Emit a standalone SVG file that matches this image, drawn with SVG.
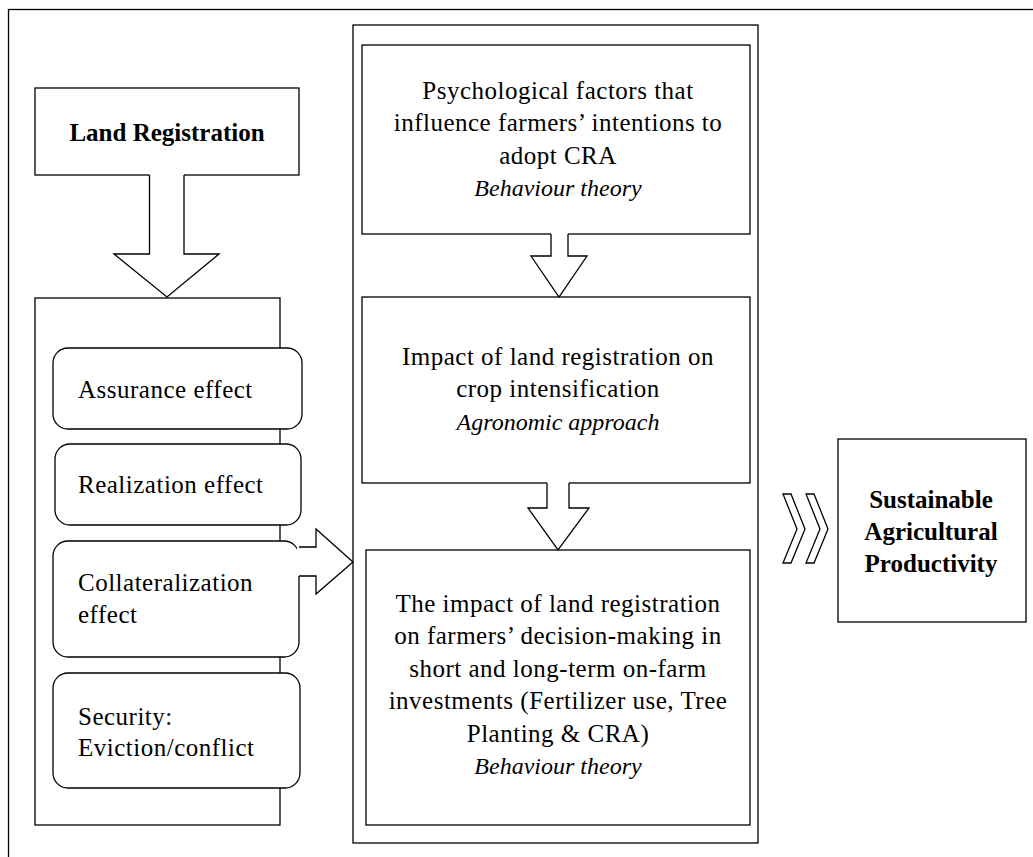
<svg xmlns="http://www.w3.org/2000/svg" width="1033" height="857" viewBox="0 0 1033 857">
<style>
.box{fill:#fff;stroke:#000;stroke-width:1.3}
.frame{fill:none;stroke:#000;stroke-width:1.3}
.arrowfill{fill:#fff;stroke:none}
.arrowline{fill:none;stroke:#000;stroke-width:1.3;stroke-linejoin:miter}
.t{font-family:"Liberation Serif","Times New Roman",serif;font-size:25px;fill:#000;letter-spacing:0.5px}
.c{text-anchor:middle}
.b{font-weight:bold;letter-spacing:0px}
.i{font-style:italic;font-size:24px;letter-spacing:0px}
</style>
<rect width="1033" height="857" fill="#fff"/>
<rect id="outer-frame" class="frame" x="8.5" y="9.5" width="1040" height="860"/>

<g id="middle-container"><rect class="box" x="353" y="25" width="405" height="818"/></g>

<g id="land-registration">
<rect class="box" x="35" y="88" width="264" height="87"/>
<text class="t b c" x="167" y="141">Land Registration</text>
</g>

<g id="effects-container"><rect class="box" x="35" y="298" width="245" height="527"/></g>

<g id="assurance"><rect class="box" x="53" y="348" width="249" height="81" rx="15"/>
<text class="t" x="78" y="398">Assurance effect</text></g>
<g id="realization"><rect class="box" x="55" y="444" width="246" height="81" rx="15"/>
<text class="t" x="78" y="493">Realization effect</text></g>
<g id="collateralization"><rect class="box" x="53" y="541" width="246" height="116" rx="15"/>
<text class="t" x="78" y="591">Collateralization</text>
<text class="t" x="78" y="623">effect</text></g>
<g id="security"><rect class="box" x="53" y="673" width="247" height="115" rx="15"/>
<text class="t" x="78" y="725">Security:</text>
<text class="t" x="78" y="756">Eviction/conflict</text></g>

<g id="psychological">
<rect class="box" x="362" y="45" width="388" height="189"/>
<text class="t c" x="558" y="99">Psychological factors that</text>
<text class="t c" x="558" y="131">influence farmers’ intentions to</text>
<text class="t c" x="558" y="163.5">adopt CRA</text>
<text class="t i c" x="558" y="196">Behaviour theory</text>
</g>

<g id="crop-intensification">
<rect class="box" x="362" y="297" width="388" height="186"/>
<text class="t c" x="558" y="365">Impact of land registration on</text>
<text class="t c" x="558" y="397">crop intensification</text>
<text class="t i c" x="558" y="430">Agronomic approach</text>
</g>

<g id="investments">
<rect class="box" x="366" y="550" width="384" height="275"/>
<text class="t c" x="558" y="611.5">The impact of land registration</text>
<text class="t c" x="558" y="644">on farmers’ decision-making in</text>
<text class="t c" x="558" y="676.5">short and long-term on-farm</text>
<text class="t c" x="558" y="709">investments (Fertilizer use, Tree</text>
<text class="t c" x="558" y="741.5">Planting &amp; CRA)</text>
<text class="t i c" x="558" y="774">Behaviour theory</text>
</g>

<g id="sustainable-productivity">
<rect class="box" x="838" y="439" width="188" height="183"/>
<text class="t b c" x="931" y="507.5">Sustainable</text>
<text class="t b c" x="931" y="540">Agricultural</text>
<text class="t b c" x="931" y="571.5">Productivity</text>
</g>

<g id="connectors">
<polygon class="arrowfill" points="149.5,173 149.5,254 114,254 167,297 219,254 184,254 184,173"/>
<path class="arrowline" d="M149.5,175 V254 H114 L167,297 L219,254 H184 V175"/>
<polygon class="arrowfill" points="551,232 551,256 531,256 559,297 587,256 568,256 568,232"/>
<path class="arrowline" d="M551,234 V256 H531 L559,297 L587,256 H568 V234"/>
<polygon class="arrowfill" points="547,481 547,508 528,508 558,550 589,508 569,508 569,481"/>
<path class="arrowline" d="M547,483 V508 H528 L558,550 L589,508 H569 V483"/>
<polygon class="arrowfill" points="297,547 316,547 316,529 353,562 316,594 316,576 297,576"/>
<path class="arrowline" d="M299,547 H316 V529 L353,562 L316,594 V576 H299"/>
<polygon class="arrowline" points="783,494 791,494 805,529 791,563 783,563 797,529"/>
<polygon class="arrowline" points="806,494 814,494 828,529 814,563 806,563 820,529"/>
</g>
</svg>
